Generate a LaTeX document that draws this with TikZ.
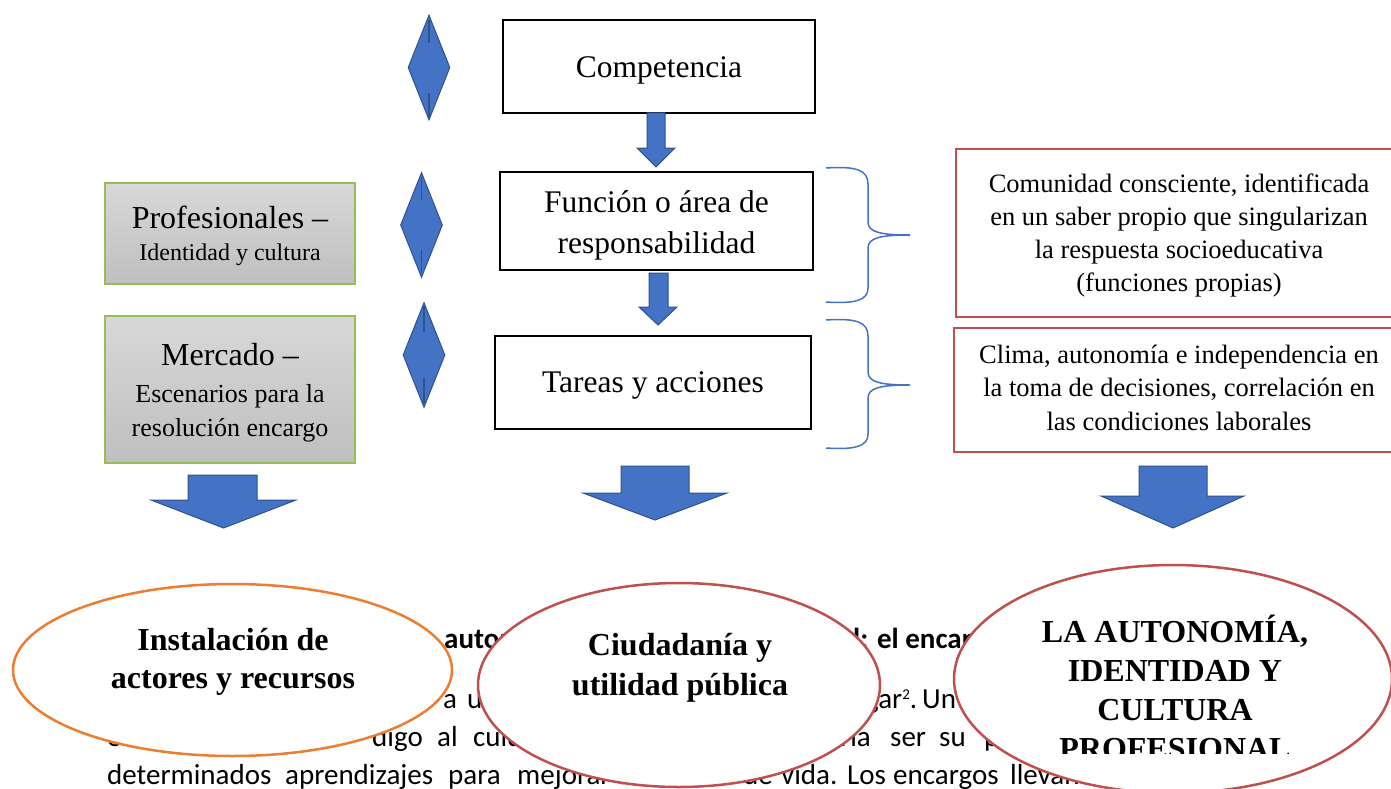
\documentclass[tikz,border=0pt]{standalone}
\usepackage{fontspec}
\setmainfont{Liberation Serif}
\newfontfamily\calfont{Carlito}
\usetikzlibrary{shapes.geometric}
\definecolor{offblue}{HTML}{4472C4}
\definecolor{darkblue}{HTML}{2F528F}
\definecolor{offred}{HTML}{C0504D}
\definecolor{offgreen}{HTML}{9BBB59}
\definecolor{offorange}{HTML}{ED7D31}
\definecolor{gtop}{HTML}{D8D8D8}
\definecolor{gbot}{HTML}{BFBFBF}
\newcommand{\ml}[1]{\begin{tabular}[t]{@{}c@{}}#1\end{tabular}}
\begin{document}
\begin{tikzpicture}[x=1pt,y=-1pt,
  blackbox/.style={draw=black,line width=2pt,inner sep=0pt},
  redbox/.style={draw=offred,line width=2pt,inner sep=0pt},
  graybox/.style={draw=offgreen,line width=1.5pt,top color=gtop,bottom color=gbot,inner sep=0pt},
  boxtext/.style={anchor=base,inner sep=0pt,font=\fontsize{31.5}{41}\selectfont},
  redtext/.style={anchor=base,inner sep=0pt,font=\fontsize{26.5}{33.3}\selectfont},
  blockarrow/.style={fill=offblue,draw=darkblue,line width=1pt,line join=miter},
  diam/.style={diamond,fill=offblue,draw=darkblue,line width=1pt,inner sep=0pt,minimum width=42pt,minimum height=105pt},
  tick/.style={draw=darkblue,line width=1.5pt},
  brace/.style={draw=offblue,line width=1.5pt},
  oval/.style={ellipse,line width=2.5pt,fill=white,inner sep=0pt},
  ovaltext/.style={anchor=base,inner sep=0pt,font=\bfseries\fontsize{32}{38}\selectfont},
  bg/.style={anchor=base west,inner sep=0pt,font=\calfont\fontsize{29}{39}\selectfont},
  bgb/.style={anchor=base west,inner sep=0pt,font=\calfont\bfseries\fontsize{29}{39}\selectfont},
]
\useasboundingbox (0,0) rectangle (1391,789);
\clip (0,0) rectangle (1391,789);
\fill[white] (0,0) rectangle (1391,789);

% central column
\node[blackbox,minimum width=312pt,minimum height=93pt] (comp) at (659,66.5) {};
\node[boxtext] (comptext) at (659,78) {Competencia};
\node[blackbox,minimum width=313pt,minimum height=98pt] (func) at (656.5,221) {};
\node[boxtext] (functext) at (656.5,212) {\ml{Función o área de\\responsabilidad}};
\node[blackbox,minimum width=316pt,minimum height=93pt] (tar) at (653,382.5) {};
\node[boxtext] (tartext) at (653,392) {Tareas y acciones};

% small block arrows
\draw[blockarrow] (647,113) -- (665,113) -- (665,148) -- (675,148) -- (656,167) -- (637,148) -- (647,148) -- cycle;
\draw[blockarrow] (649,273) -- (668,273) -- (668,307) -- (677,307) -- (658,325) -- (639,307) -- (649,307) -- cycle;

% diamonds
\node[diam] (d1) at (429,67.5) {};
\node[diam] (d2) at (421.5,225) {};
\node[diam] (d3) at (424,355) {};
\draw[tick] (429,20) -- (429,43);
\draw[tick] (429,93) -- (429,117);
\draw[tick] (421.5,177) -- (421.5,200);
\draw[tick] (421.5,250) -- (421.5,273);
\draw[tick] (424,306) -- (424,332);
\draw[tick] (424,378) -- (424,403);

% left gray boxes
\node[graybox,minimum width=250pt,minimum height=101pt] (prof) at (230,233.5) {};
\node[anchor=base,inner sep=0pt,font=\fontsize{24}{32}\selectfont] (proftext) at (230,228)
  {\ml{{\fontsize{32}{32}\selectfont Profesionales –}\\Identidad y cultura}};
\node[graybox,minimum width=250pt,minimum height=147pt] (merc) at (230,389.5) {};
\node[anchor=base,inner sep=0pt,font=\fontsize{26}{34}\selectfont] (merctext) at (230,365)
  {\ml{{\fontsize{32}{34}\selectfont Mercado –}\\[3pt]Escenarios para la\\resolución encargo}};

% braces
\draw[brace] (826,168) .. controls (856,166) and (868,170) .. (868,184) -- (868,222)
  .. controls (868,232) and (880,235) .. (910,235)
  .. controls (880,235) and (868,238) .. (868,248) -- (868,288)
  .. controls (868,300) and (856,304) .. (826,302);
\draw[brace] (826,320) .. controls (856,318) and (868,322) .. (868,336) -- (868,372)
  .. controls (868,382) and (880,385) .. (910,385)
  .. controls (880,385) and (868,388) .. (868,398) -- (868,434)
  .. controls (868,446) and (856,450) .. (826,448);

% red boxes
\node[redbox,minimum width=446pt,minimum height=168pt] (red1) at (1179,233) {};
\node[redtext] (red1text) at (1179,192) {\ml{Comunidad consciente, identificada\\en un saber propio que singularizan\\la respuesta socioeducativa\\(funciones propias)}};
\node[redbox,minimum width=446pt,minimum height=124pt] (red2) at (1177,390) {};
\node[redtext,font=\fontsize{26.5}{33.5}\selectfont] (red2text) at (1179,363) {\ml{Clima, autonomía e independencia en\\la toma de decisiones, correlación en\\las condiciones laborales}};

% big block arrows
\draw[blockarrow] (188,475) -- (257,475) -- (257,500) -- (296,500) -- (223.5,528) -- (151,500) -- (188,500) -- cycle;
\draw[blockarrow] (621,466) -- (689,466) -- (689,493) -- (727,493) -- (655,520) -- (583,493) -- (621,493) -- cycle;
\draw[blockarrow] (1139,466) -- (1207,466) -- (1207,496) -- (1244,496) -- (1173,528) -- (1101,496) -- (1139,496) -- cycle;

% background document text
\node[bgb] (t1a) at (444,648) {auton};
\node[bgb] (t1b) at (853,648) {l: el encargo};
\node[bg] (t2a) at (443,708) {a};
\node[bg] (t2b) at (467,708) {un};
\node[bg] (t2c) at (865,708) {gar{\fontsize{15}{15}\selectfont\raisebox{9pt}{2}}.};
\node[bg] (t2d) at (922,708) {Un};
\node[bg] (t3a) at (107,746) {en};
\node[bg] (t3b) at (372,746) {digo};
\node[bg] (t3c) at (437,746) {al};
\node[bg] (t3d) at (473,746) {cuida};
\node[bg] (t3e) at (840,746) {ría};
\node[bg] (t3f) at (890,746) {ser};
\node[bg] (t3g) at (939,746) {su};
\node[bg] (t3h) at (984,746) {pr};
\node[bg] (t4a) at (107,784) {determinados};
\node[bg] (t4b) at (285,784) {aprendizajes};
\node[bg] (t4c) at (448,784) {para};
\node[bg] (t4d) at (517,784) {mejorar};
\node[bg] (t4e) at (617,784) {su};
\node[bg] (t4f) at (743,784) {de};
\node[bg] (t4g) at (781,784) {vida.};
\node[bg] (t4h) at (847,784) {Los};
\node[bg] (t4i) at (893,784) {encargos};
\node[bg] (t4j) at (1010,784) {llevan};

% ellipses
\node[oval,draw=offorange,minimum width=439pt,minimum height=172pt] (e1) at (232.5,670) {};
\node[ovaltext] (e1text) at (233,650) {\ml{Instalación de\\actores y recursos}};
\node[oval,draw=offred,minimum width=402pt,minimum height=204pt] (e2) at (679,685) {};
\node[ovaltext,font=\bfseries\fontsize{32}{40}\selectfont] (e2text) at (680,655) {\ml{Ciudadanía y\\utilidad pública}};
\node[oval,draw=offred,minimum width=438pt,minimum height=228pt] (e3) at (1173,679) {};
\begin{scope}
\clip (953,560) rectangle (1391,753);
\node[ovaltext,font=\bfseries\fontsize{32}{39.3}\selectfont] (e3text) at (1175,642) {\ml{LA AUTONOMÍA,\\IDENTIDAD Y\\CULTURA\\PROFESIONAL}};
\end{scope}
\end{tikzpicture}
\end{document}
